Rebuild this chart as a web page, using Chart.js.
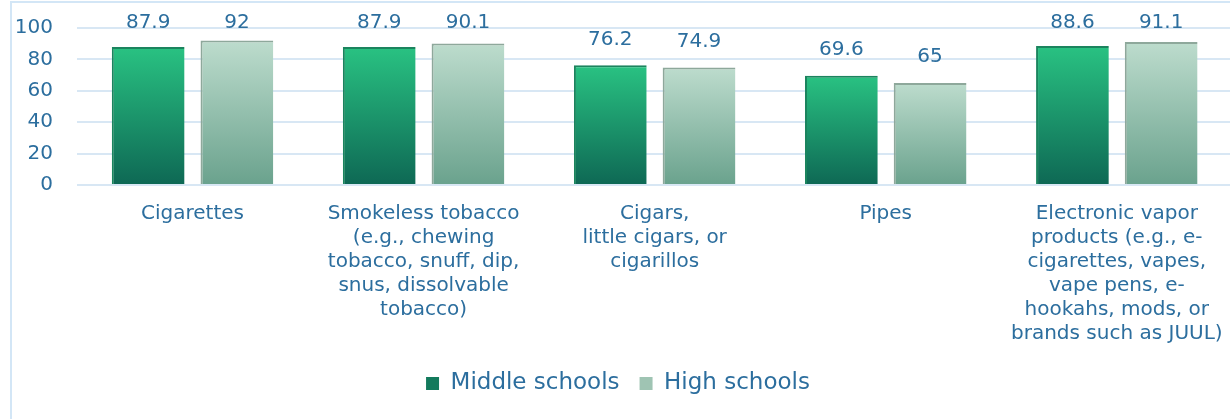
<!DOCTYPE html>
<html>
<head>
<meta charset="utf-8">
<script src="https://cdn.jsdelivr.net/npm/chart.js@4.4.1/dist/chart.umd.min.js"></script>
<style>
  html, body { margin: 0; padding: 0; background: #fff; overflow: hidden; }
  #frame {
    position: absolute; left: 10px; top: 1px; width: 1400px; height: 600px;
    border-left: 2px solid #d3e6f6; border-top: 2px solid #d3e6f6;
  }
  #wrap { position: absolute; left: 0; top: 0; width: 1240px; height: 419px; }
</style>
</head>
<body>
<div id="frame"></div>
<div id="wrap"><canvas id="myChart"></canvas></div>
<script>
// categories (multi-line labels as they wrap in the original)
const categories = [
  ["Cigarettes"],
  ["Smokeless tobacco", "(e.g., chewing", "tobacco, snuff, dip,", "snus, dissolvable", "tobacco)"],
  ["Cigars,", "little cigars, or", "cigarillos"],
  ["Pipes"],
  ["Electronic vapor", "products (e.g., e-", "cigarettes, vapes,", "vape pens, e-", "hookahs, mods, or", "brands such as JUUL)"],
];
const middleSchools = [87.9, 87.9, 76.2, 69.6, 88.6];
const highSchools = [92, 90.1, 74.9, 65, 91.1];
const yTicks = [0, 20, 40, 60, 80, 100];

const textColor = "#2c6e9e";
const fontFamily = "'DejaVu Sans', sans-serif";
const legendColors = ["#137a5c", "#9fc4b3"];

// vertical gradient per bar, from the bar top down to zero
function barGradient(top, bottom, fallback) {
  return (ctx) => {
    const chart = ctx.chart;
    if (!chart.chartArea || ctx.type !== "data") return fallback;
    const y = chart.scales.y;
    const y0 = y.getPixelForValue(ctx.raw);
    const y1 = y.getPixelForValue(0);
    const g = chart.ctx.createLinearGradient(0, y0, 0, y1);
    g.addColorStop(0, top);
    g.addColorStop(1, bottom);
    return g;
  };
}

// value labels above bars (pushed down near the top edge like the original)
const valueLabels = {
  id: "valueLabels",
  afterDatasetsDraw(chart) {
    const ctx = chart.ctx;
    ctx.save();
    ctx.font = "20px " + fontFamily;
    ctx.fillStyle = textColor;
    ctx.textAlign = "center";
    ctx.textBaseline = "middle";
    chart.data.datasets.forEach((ds, i) => {
      chart.getDatasetMeta(i).data.forEach((bar, j) => {
        const y = Math.max(bar.y - 26, 22.5);
        ctx.fillText(String(ds.data[j]), bar.x, y);
      });
    });
    ctx.restore();
  },
};

new Chart(document.getElementById("myChart"), {
  type: "bar",
  data: {
    labels: categories,
    datasets: [
      {
        label: "Middle schools",
        data: middleSchools,
        backgroundColor: barGradient("#29c282", "#0e6854", "#168a63"),
        borderColor: "#1b845e",
        borderWidth: { left: 2, top: 2, right: 0, bottom: 0 },
        barPercentage: 0.82,
        categoryPercentage: 0.768,
      },
      {
        label: "High schools",
        data: highSchools,
        backgroundColor: barGradient("#bddccd", "#6aa28d", "#99c3b0"),
        borderColor: "#8ea89b",
        borderWidth: { left: 2, top: 2, right: 0, bottom: 0 },
        barPercentage: 0.82,
        categoryPercentage: 0.768,
      },
    ],
  },
  options: {
    responsive: true,
    maintainAspectRatio: false,
    animation: false,
    layout: { padding: { left: 0, right: 4, top: 28, bottom: 14 } },
    plugins: {
      tooltip: { enabled: false },
      legend: {
        position: "bottom",
        labels: {
          color: textColor,
          font: { family: fontFamily, size: 23 },
          boxWidth: 13,
          boxHeight: 13,
          padding: 20,
          generateLabels: (chart) =>
            chart.data.datasets.map((ds, i) => ({
              text: ds.label,
              fillStyle: legendColors[i],
              strokeStyle: legendColors[i],
              lineWidth: 0,
              fontColor: textColor,
              datasetIndex: i,
            })),
        },
      },
    },
    scales: {
      x: {
        grid: { display: false, drawTicks: false },
        border: { display: false },
        ticks: {
          color: textColor,
          font: { family: fontFamily, size: 20, lineHeight: 1.2 },
          padding: 17,
          maxRotation: 0,
          autoSkip: false,
        },
        afterFit: (scale) => { scale.height = 167; },
      },
      y: {
        min: 0,
        max: 100,
        afterBuildTicks: (scale) => { scale.ticks = yTicks.map((v) => ({ value: v })); },
        grid: { color: "#d8e7f4", lineWidth: 2, drawTicks: false },
        border: { display: false },
        ticks: {
          color: textColor,
          font: { family: fontFamily, size: 20 },
          padding: 24,
        },
        afterFit: (scale) => {
          scale.width = 77;
          scale.paddingTop = 0;
          scale.paddingBottom = 0;
        },
      },
    },
  },
  plugins: [valueLabels],
});
</script>
</body>
</html>
